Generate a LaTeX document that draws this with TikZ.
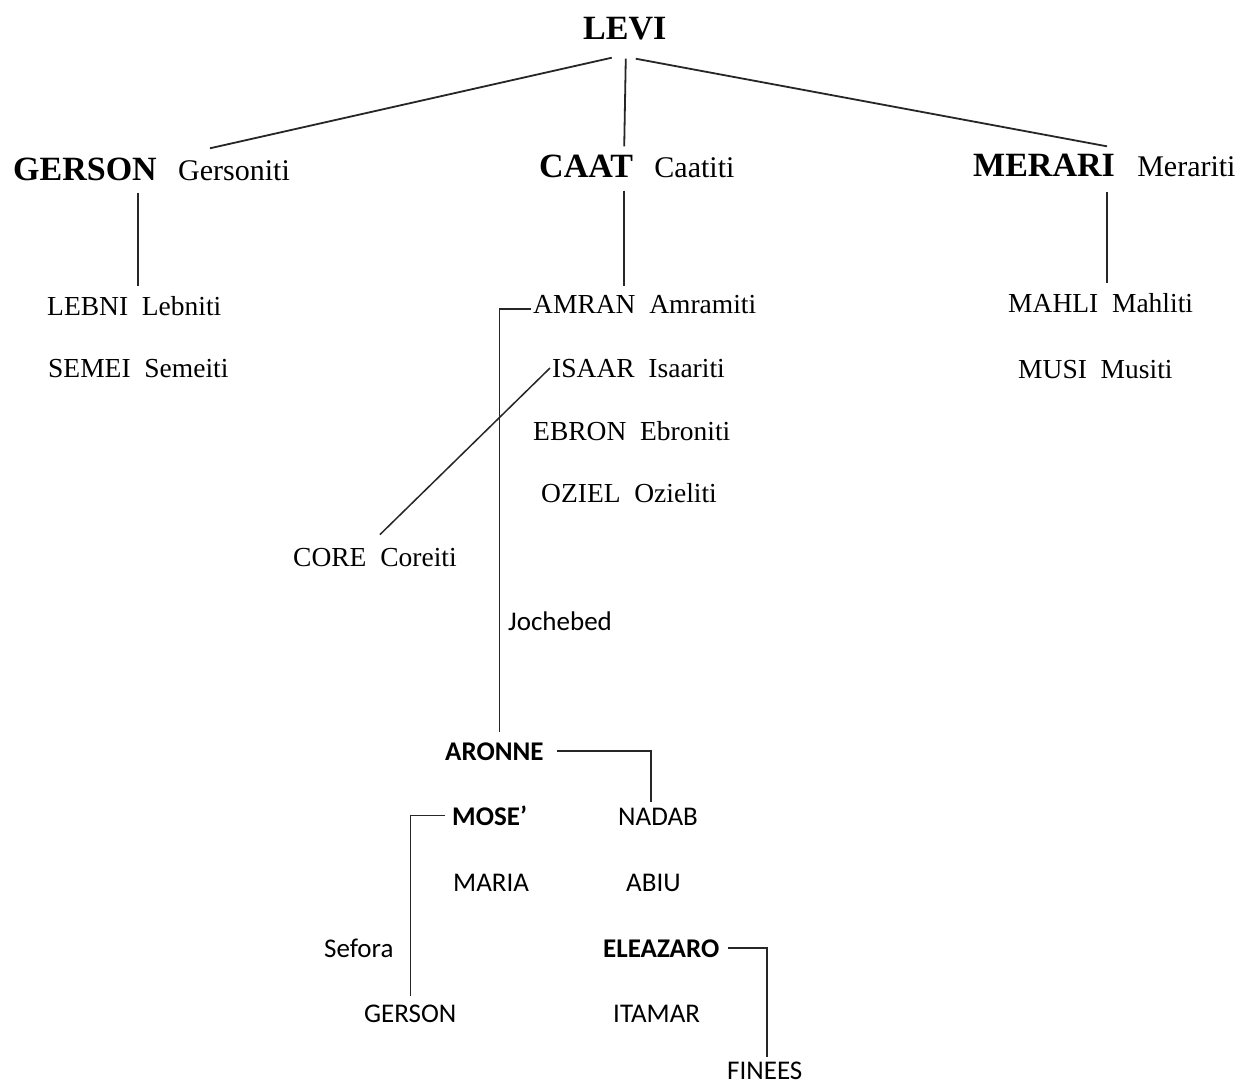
\documentclass[tikz,border=0pt]{standalone}
\usepackage{fontspec}
\setmainfont{Liberation Serif}
\newfontfamily\carlito{Carlito}
\usepackage{tikz}

\tikzset{
	patriarch/.style={font=\bfseries\fontsize{34}{40}\selectfont},
	tribe/.style={font=\fontsize{30}{36}\selectfont},
	clan/.style={font=\fontsize{27.5}{33}\selectfont},
	person/.style={font=\carlito\fontsize{27}{32}\selectfont},
	mainperson/.style={font=\carlito\bfseries\fontsize{27}{32}\selectfont},
	branch/.style={line width=1.8pt, black!85},
	link/.style={line width=1.5pt, black!85}
}

\begin{document}
\begin{tikzpicture}[x=1pt,y=-1pt, every node/.style={inner sep=0pt, anchor=base west}]
	\fill[white] (0,0) rectangle (1242,1086);
	\useasboundingbox (0,0) rectangle (1242,1086);

	\node[patriarch] (levi) at (583,40) {LEVI};

	\node[patriarch] (gerson) at (13,181) {GERSON};
	\node[tribe] (gersoniti) at ([xshift=21pt]gerson.base east) {Gersoniti};
	\node[patriarch] (caat) at (539,178) {CAAT};
	\node[tribe] (caatiti) at ([xshift=21pt]caat.base east) {Caatiti};
	\node[patriarch] (merari) at (973,177) {MERARI};
	\node[tribe] (merariti) at ([xshift=22pt]merari.base east) {Merariti};

	\node[clan] (lebni) at (47,315) {LEBNI~~Lebniti};
	\node[clan] (semei) at (48,377) {SEMEI~~Semeiti};
	\node[clan] (amran) at (533,313) {AMRAN~~Amramiti};
	\node[clan] (isaar) at (552,377) {ISAAR~~Isaariti};
	\node[clan] (ebron) at (533,440) {EBRON~~Ebroniti};
	\node[clan] (oziel) at (541,502) {OZIEL~~Ozieliti};
	\node[clan] (core) at (293,566) {CORE~~Coreiti};
	\node[clan] (mahli) at (1008,312) {MAHLI~~Mahliti};
	\node[clan] (musi) at (1018,378) {MUSI~~Musiti};

	\node[person] (jochebed) at (508,630) {Jochebed};
	\node[mainperson] (aronne) at (445,760) {ARONNE};
	\node[mainperson] (mose) at (452,825) {MOSE’};
	\node[person] (nadab) at (618,825) {NADAB};
	\node[person] (maria) at (453,891) {MARIA};
	\node[person] (abiu) at (626,891) {ABIU};
	\node[person] (sefora) at (324,957) {Sefora};
	\node[mainperson] (eleazaro) at (603,957) {ELEAZARO};
	\node[person] (gersonmose) at (364,1022) {GERSON};
	\node[person] (itamar) at (613,1022) {ITAMAR};
	\node[person] (finees) at (727,1079) {FINEES};

	\draw[branch] ([shift={(-13,17)}]levi.south) -- ([shift={(53,-10)}]gerson.north east);
	\draw[branch] ([shift={(1,18)}]levi.south) -- ([shift={(-9,-9)}]caat.north east);
	\draw[branch] ([shift={(11,18)}]levi.south) -- ([shift={(-8,-8)}]merari.north east);

	\coordinate (gersonfoot) at ([shift={(-19,11)}]gerson.south east);
	\coordinate (caatfoot) at ([shift={(-9,12)}]caat.south east);
	\coordinate (merarifoot) at ([shift={(-8,15)}]merari.south east);
	\draw[link] (gersonfoot) -- ([yshift=10pt]gersonfoot |- lebni.north);
	\draw[link] (caatfoot) -- ([yshift=9pt]caatfoot |- amran.north);
	\draw[link] (merarifoot) -- ([yshift=10pt]merarifoot |- mahli.north);

	\draw[link] ([shift={(-2,5)}]amran.west) -| ([shift={(5,-10)}]aronne.north);
	\draw[link] ([xshift=-2pt]isaar.west) -- ([shift={(5,-13)}]core.north);
	\draw[link] ([xshift=13pt]aronne.east) -| ([shift={(-7,-5)}]nadab.north);
	\draw[link] ([xshift=-7pt]mose.west) -| ([yshift=8pt]gersonmose.north);
	\draw[link] ([xshift=9pt]eleazaro.east) -| ([shift={(2,-4)}]finees.north);
\end{tikzpicture}
\end{document}
